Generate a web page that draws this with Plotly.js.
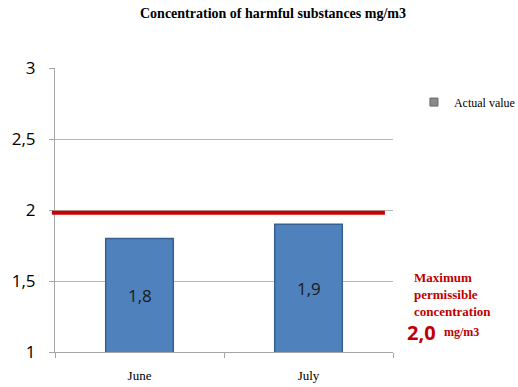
<!DOCTYPE html>
<html><head><meta charset="utf-8">
<script src="https://cdn.plot.ly/plotly-3.0.1.min.js"></script>
<style>html,body{margin:0;padding:0;background:#fff}</style>
</head><body>
<div id="chart" style="width:518px;height:387px"></div>
<script>
var months = ["June", "July"];
var actualValues = [1.8, 1.9];
var barLabels = ["1,8", "1,9"];
var limitValue = 1.98;
var yTicks = [1, 1.5, 2, 2.5, 3];
var yTickLabels = ["1", "1,5", "2", "2,5", "3"];
var yMin = 1, yMax = 3;

var traces = [
  {
    type: "bar", x: months, y: actualValues,
    textposition: "none",
    marker: {color: "#4F81BD", line: {color: "#38608F", width: 1.5}},
    width: 0.4, showlegend: false, hoverinfo: "skip"
  },
  {
    type: "scatter", mode: "markers", x: [null], y: [null],
    name: "Actual value",
    marker: {symbol: "square", size: 8, color: "#8a8a8a", line: {color: "#666", width: 1}},
    showlegend: true
  }
];

var labelAnnotations = months.map(function (m, i) {
  return {xref: "x", yref: "y", x: m, y: (yMin + actualValues[i]) / 2,
          text: barLabels[i], showarrow: false,
          font: {family: "Open Sans, Liberation Sans, sans-serif", size: 17, color: "#1a1a1a"}};
});

var layout = {
  width: 518, height: 387,
  margin: {l: 55, r: 125, t: 68, b: 35, autoexpand: false},
  paper_bgcolor: "#fff", plot_bgcolor: "#fff",
  separators: ",.",
  title: {text: "<b>Concentration of harmful substances mg/m3</b>",
          font: {family: "Liberation Serif, Times New Roman, serif", size: 14, color: "#000"},
          x: 0.527, xanchor: "center", y: 0.967, yanchor: "middle"},
  xaxis: {
    type: "category", range: [-0.5, 1.5], tickson: "boundaries",
    showline: true, linecolor: "#a6a6a6", linewidth: 1,
    ticks: "outside", ticklen: 5, tickcolor: "#a6a6a6",
    showgrid: false, zeroline: false,
    tickfont: {family: "Liberation Serif, Times New Roman, serif", size: 13, color: "#000"},
    ticklabelstandoff: 11
  },
  yaxis: {
    range: [yMin, yMax], tickvals: yTicks, ticktext: yTickLabels,
    showline: true, linecolor: "#a6a6a6", linewidth: 1,
    ticks: "outside", ticklen: 5, tickcolor: "#a6a6a6",
    showgrid: true, gridcolor: "#b5b5b5", gridwidth: 1, zeroline: false,
    tickfont: {family: "Open Sans, Liberation Sans, sans-serif", size: 17, color: "#000"},
    ticklabelstandoff: 10
  },
  legend: {x: 1.062, y: 0.88, xanchor: "left", yanchor: "middle", bgcolor: "rgba(0,0,0,0)",
           font: {family: "Liberation Serif, Times New Roman, serif", size: 12, color: "#000"},
           itemwidth: 30},
  shapes: [{
    type: "line", xref: "paper", yref: "y", x0: -0.009, x1: 0.976,
    y0: limitValue, y1: limitValue, line: {color: "#CC0000", width: 4}
  }],
  annotations: labelAnnotations.concat([
    {xref: "paper", yref: "paper", x: 1.055, y: 0.202, xanchor: "left", yanchor: "middle", align: "left",
     showarrow: false,
     text: "<b>Maximum<br>permissible<br>concentration</b>",
     font: {family: "Liberation Serif, Times New Roman, serif", size: 13, color: "#C00000"}},
    {xref: "paper", yref: "paper", x: 1.036, y: 0.069, xanchor: "left", yanchor: "middle", align: "left",
     showarrow: false,
     text: "<b>2,0</b>",
     font: {family: "Open Sans, Liberation Sans, sans-serif", size: 20, color: "#C00000"}},
    {xref: "paper", yref: "paper", x: 1.145, y: 0.072, xanchor: "left", yanchor: "middle", align: "left",
     showarrow: false,
     text: "<b>mg/m3</b>",
     font: {family: "Liberation Serif, Times New Roman, serif", size: 12, color: "#C00000"}}
  ])
};

Plotly.newPlot("chart", traces, layout, {staticPlot: true, displayModeBar: false});
</script>
</body></html>
